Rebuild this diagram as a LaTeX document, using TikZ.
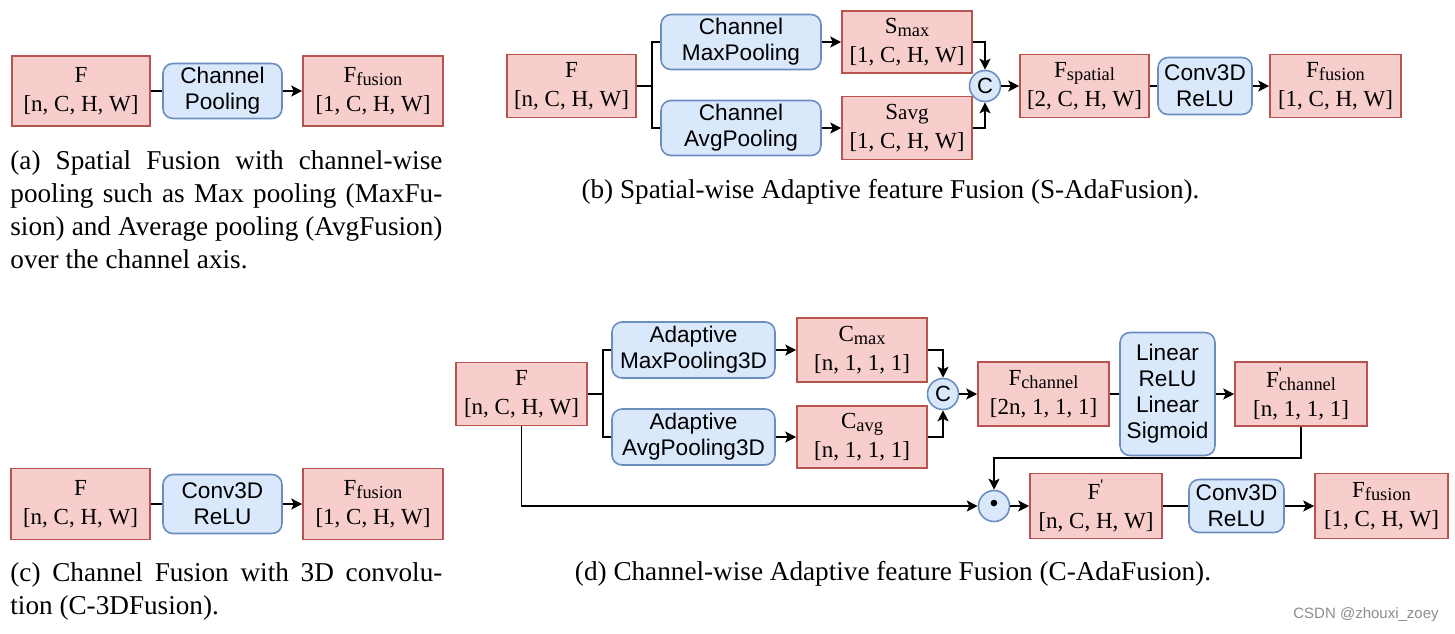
\documentclass[tikz,border=0pt]{standalone}
\usepackage{fontspec}
\setmainfont{Liberation Serif}
\setsansfont{Liberation Sans}
\usetikzlibrary{arrows.meta}
\definecolor{redF}{HTML}{F8CECC}
\definecolor{redS}{HTML}{B85450}
\definecolor{blueF}{HTML}{DAE8FC}
\definecolor{blueS}{HTML}{6C8EBF}
\newcommand{\prm}{\textsuperscript{\textquotesingle}}
\newcommand{\sbs}[1]{\raisebox{-0.3ex}{\fontsize{9.2}{10}\selectfont #1}}
\begin{document}
\begin{tikzpicture}[x=0.5pt,y=-0.5pt,
 redbox/.style={draw=redS,fill=redF,line width=0.8pt,inner sep=0pt,align=center,font=\fontsize{11.5}{14.5}\selectfont},
 bluebox/.style={draw=blueS,fill=blueF,line width=0.8pt,rounded corners=5pt,inner sep=0pt,align=center,font=\sffamily\fontsize{11.3}{13}\selectfont},
 opc/.style={circle,draw=blueS,fill=blueF,line width=0.8pt,minimum size=15.5pt,inner sep=0pt,font=\sffamily\fontsize{11}{13}\selectfont},
 conn/.style={line width=0.7pt,draw=black},
 arr/.style={conn,-{Stealth[length=5.5pt,width=5.5pt,inset=1.3pt]}},
 capt/.style={font=\fontsize{13.6}{16.5}\selectfont,inner sep=0pt}
]
\useasboundingbox (0,0) rectangle (1455,633);

% ---------- (a)
\node[redbox,minimum width=69pt,minimum height=35pt] (Fa) at (81,91) {F\\{[}n, C, H, W{]}};
\node[bluebox,minimum width=59.5pt,minimum height=27.5pt] (Pa) at (222.5,91) {Channel\\Pooling};
\node[redbox,minimum width=70pt,minimum height=35pt] (Ffa) at (373,91) {F\sbs{fusion}\\{[}1, C, H, W{]}};
\draw[conn] (Fa) -- (Pa);
\draw[arr] (Pa) -- (Ffa);
\node[capt,anchor=north west,text width=216pt,align=justify] (capa) at (10,150)
 {(a) Spatial Fusion with channel-wise\linebreak pooling such as Max pooling (MaxFu-\linebreak sion) and Average pooling (AvgFusion)\linebreak over the channel axis.};

% ---------- (c)
\node[redbox,minimum width=69.5pt,minimum height=35.5pt] (Fc) at (80.5,504) {F\\{[}n, C, H, W{]}};
\node[bluebox,minimum width=59.5pt,minimum height=29.5pt] (Pc) at (222.5,504) {Conv3D\\ReLU};
\node[redbox,minimum width=70pt,minimum height=35.5pt] (Ffc) at (373,504) {F\sbs{fusion}\\{[}1, C, H, W{]}};
\draw[conn] (Fc) -- (Pc);
\draw[arr] (Pc) -- (Ffc);
\node[capt,anchor=north west,text width=216pt,align=justify] (capc) at (10,562)
 {(c) Channel Fusion with 3D convolu-\linebreak tion (C-3DFusion).};

% ---------- (b)
\node[redbox,minimum width=64.5pt,minimum height=31.5pt] (Fb) at (571.5,86) {F\\{[}n, C, H, W{]}};
\node[bluebox,minimum width=80pt,minimum height=27.5pt] (MaxP) at (741,42) {Channel\\MaxPooling};
\node[bluebox,minimum width=80pt,minimum height=27.5pt] (AvgP) at (741,128) {Channel\\AvgPooling};
\node[redbox,minimum width=65pt,minimum height=31pt] (Smax) at (907,42) {S\sbs{max}\\{[}1, C, H, W{]}};
\node[redbox,minimum width=65pt,minimum height=31.5pt] (Savg) at (907,128) {S{\fontsize{10.5}{12}\selectfont avg}\\{[}1, C, H, W{]}};
\node[opc] (Cb) at (985,86) {C};
\node[redbox,minimum width=64.5pt,minimum height=31.5pt] (Fsp) at (1084.5,86) {F\sbs{spatial}\\{[}2, C, H, W{]}};
\node[bluebox,minimum width=47pt,minimum height=28.5pt] (Convb) at (1205,86) {Conv3D\\ReLU};
\node[redbox,minimum width=65.5pt,minimum height=31.5pt] (Ffb) at (1335.5,86) {F\sbs{fusion}\\{[}1, C, H, W{]}};
\coordinate (bb) at (652,86);
\draw[conn] (Fb.east) -- (bb);
\draw[conn] (bb) |- (MaxP.west);
\draw[conn] (bb) |- (AvgP.west);
\draw[arr] (MaxP) -- (Smax);
\draw[arr] (AvgP) -- (Savg);
\draw[arr] (Smax.east) -| (Cb.north);
\draw[arr] (Savg.east) -| (Cb.south);
\draw[arr] (Cb) -- (Fsp);
\draw[conn] (Fsp) -- (Convb);
\draw[arr] (Convb) -- (Ffb);
\node[capt] (capb) at (890.5,192) {(b) Spatial-wise Adaptive feature Fusion (S-AdaFusion).};

% ---------- (d)
\node[redbox,minimum width=65.5pt,minimum height=31.5pt] (Fd) at (521.5,394) {F\\{[}n, C, H, W{]}};
\node[bluebox,minimum width=81.5pt,minimum height=28pt] (MaxP3) at (693.5,350) {Adaptive\\MaxPooling3D};
\node[bluebox,minimum width=81.5pt,minimum height=28pt] (AvgP3) at (693.5,437) {Adaptive\\AvgPooling3D};
\node[redbox,minimum width=65pt,minimum height=32pt] (Cmax) at (862,350) {C\sbs{max}\\{[}n, 1, 1, 1{]}};
\node[redbox,minimum width=65pt,minimum height=31pt] (Cavg) at (862,437) {C\sbs{avg}\\{[}n, 1, 1, 1{]}};
\node[opc] (Cd) at (943,394) {C};
\node[redbox,minimum width=65.5pt,minimum height=32pt] (Fch) at (1043.5,394) {F\sbs{channel}\\{[}2n, 1, 1, 1{]}};
\node[bluebox,minimum width=47.5pt,minimum height=61.5pt] (Lin) at (1167.5,394) {Linear\\ReLU\\Linear\\Sigmoid};
\node[redbox,minimum width=66pt,minimum height=32pt] (Fchp) at (1301,394) {F\rlap{\prm}\sbs{channel}\\{[}n, 1, 1, 1{]}};
\node[opc,font=\sffamily\fontsize{12}{12}\selectfont] (Dot) at (994,506) {\textbullet};
\node[redbox,minimum width=66pt,minimum height=32.5pt] (Fp) at (1096,506) {F\prm\\{[}n, C, H, W{]}};
\node[bluebox,minimum width=47.5pt,minimum height=26.5pt] (Convd) at (1236.5,506) {Conv3D\\ReLU};
\node[redbox,minimum width=66.5pt,minimum height=32.5pt] (Ffd) at (1381.5,506) {F\sbs{fusion}\\{[}1, C, H, W{]}};
\coordinate (bd) at (603,394);
\coordinate (turn) at (994,458);
\draw[conn] (Fd.east) -- (bd);
\draw[conn] (bd) |- (MaxP3.west);
\draw[conn] (bd) |- (AvgP3.west);
\draw[arr] (MaxP3) -- (Cmax);
\draw[arr] (AvgP3) -- (Cavg);
\draw[arr] (Cmax.east) -| (Cd.north);
\draw[arr] (Cavg.east) -| (Cd.south);
\draw[arr] (Cd) -- (Fch);
\draw[conn] (Fch) -- (Lin);
\draw[arr] (Lin) -- (Fchp);
\draw[arr] (Fchp.south) |- (turn) -- (Dot.north);
\draw[arr] (Fd.south) |- (Dot.west);
\draw[arr] (Dot) -- (Fp);
\draw[conn] (Fp) -- (Convd);
\draw[arr] (Convd) -- (Ffd);
\node[capt] (capd) at (893,574) {(d) Channel-wise Adaptive feature Fusion (C-AdaFusion).};

\node[font=\sffamily\fontsize{7.5}{9}\selectfont,text=black!45] (wm) at (1366,615) {CSDN @zhouxi\_zoey};
\end{tikzpicture}
\end{document}
